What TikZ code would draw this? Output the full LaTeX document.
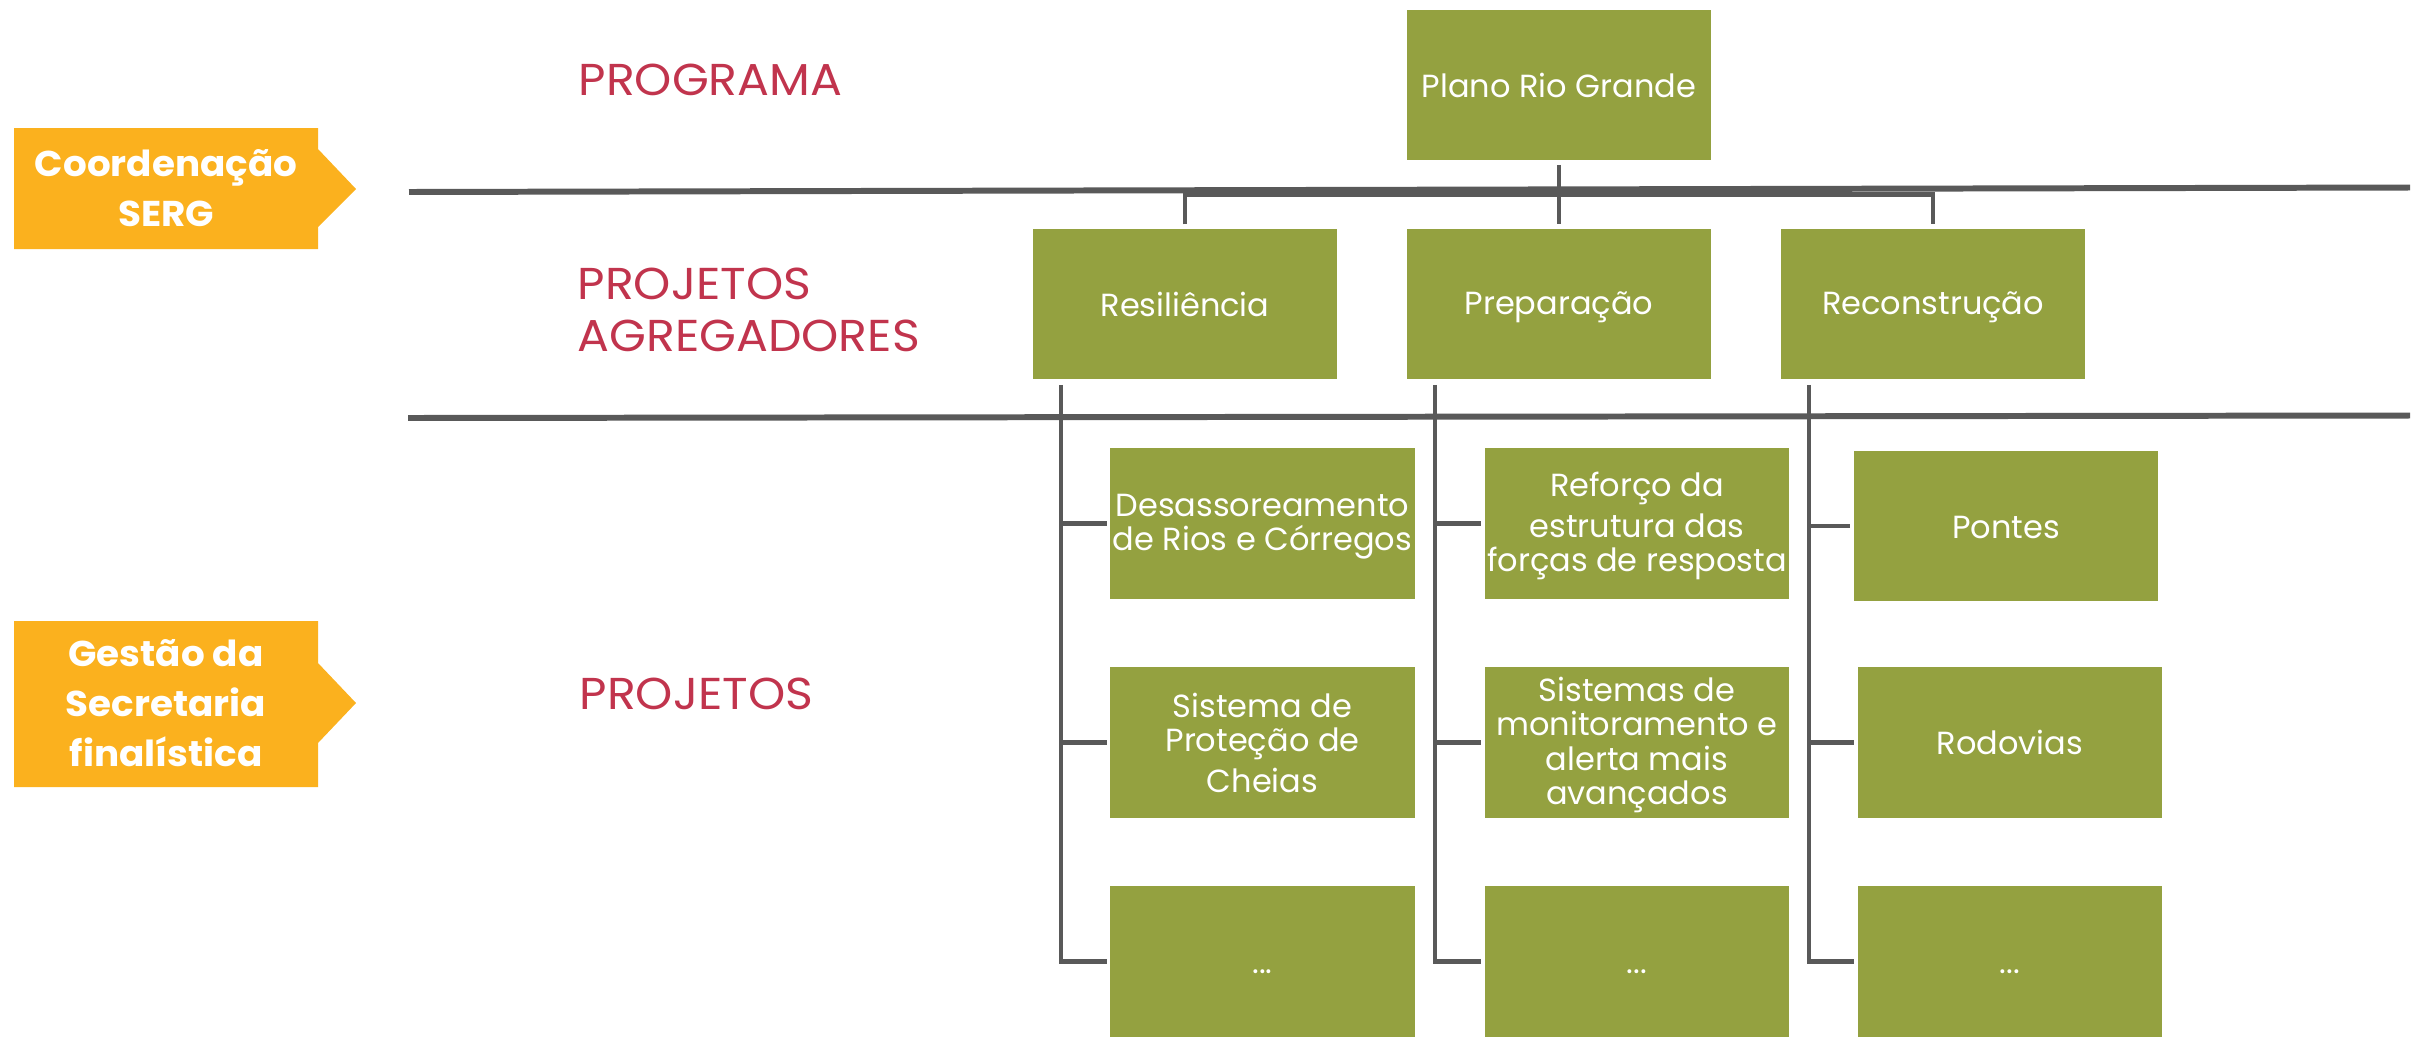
\documentclass[tikz,border=0pt]{standalone}
\usepackage{fontspec}
\setmainfont{Poppins}
\newfontfamily\labfont{Poppins}[FakeStretch=1.06]
\newfontfamily\ofont{Poppins}[FakeStretch=1.04]
\definecolor{gr}{RGB}{148,161,64}
\definecolor{org}{RGB}{251,177,30}
\definecolor{lred}{RGB}{193,52,77}
\definecolor{gy}{RGB}{89,89,89}
\newcommand\gs{\rule{0pt}{8.3pt}\rule[-1.4pt]{0pt}{1.4pt}}
\tikzset{
  gbox/.style={fill=gr, text=white, minimum width=3.04cm, minimum height=1.5cm, inner sep=0pt, align=center, font=\fontsize{9.1}{9.7}\selectfont},
  lab/.style={text=lred, align=left, inner sep=0pt, font=\labfont\fontsize{12.7}{14.8}\selectfont},
  otext/.style={text=white, font=\ofont\bfseries\fontsize{10.2}{14.2}\selectfont, align=center, inner sep=0pt},
  conn/.style={draw=gy, line width=1.15pt},
  sepline/.style={draw=gy, line width=1.7pt},
  arrowfill/.style={fill=org}
}
\begin{document}
\begin{tikzpicture}[x=0.01cm,y=-0.01cm]
\useasboundingbox (0,0) rectangle (2418,1045);

% orange labels
\fill[arrowfill] (14,128) -- (318,128) -- (318,149) -- (356,189) -- (318,227) -- (318,249) -- (14,249) -- cycle;
\node[otext] (o1) at (166,188.5) {Coordenação\\SERG};
\fill[arrowfill] (14,621) -- (318,621) -- (318,663) -- (356,703) -- (318,743) -- (318,787) -- (14,787) -- cycle;
\node[otext] (o2) at (166,703) {Gestão da\\Secretaria\\finalística};

% level labels
\node[lab, anchor=base west] (l1) at (578,95) {PROGRAMA};
\node[lab, anchor=west] (l2) at (577,310) {PROJETOS\\AGREGADORES};
\node[lab, anchor=base west] (l3) at (579,709) {PROJETOS};

% separators
\coordinate (s1l) at (409,192);
\coordinate (s1r) at (2410,187.5);
\coordinate (s2l) at (408,418);
\coordinate (s2r) at (2410,415.5);
\draw[sepline] (s1l) -- (s1r);
\draw[sepline] (s2l) -- (s2r);

% boxes
\node[gbox] (P) at (1559,85) {\gs Plano Rio Grande};
\node[gbox] (Res) at (1185,304) {\gs Resiliência};
\node[gbox] (Prep) at (1559,304) {\gs Preparação};
\node[gbox] (Rec) at (1933,304) {\gs Reconstrução};

\node[gbox] (R1) at (1262.5,523.5) {\gs Desassoreamento\\\gs de Rios e Córregos};
\node[gbox] (R2) at (1262.5,742.5) {\gs Sistema de\\\gs Proteção de\\\gs Cheias};
\node[gbox] (R3) at (1262.5,961.5) {\gs ...};
\node[gbox] (Q1) at (1637,523.5) {\gs Reforço da\\\gs estrutura das\\\gs forças de resposta};
\node[gbox] (Q2) at (1637,742.5) {\gs Sistemas de\\\gs monitoramento e\\\gs alerta mais\\\gs avançados};
\node[gbox] (Q3) at (1637,961.5) {\gs ...};
\node[gbox] (T1) at (2006,526) {\gs Pontes};
\node[gbox] (T2) at (2010,742.5) {\gs Rodovias};
\node[gbox] (T3) at (2010,961.5) {\gs ...};

% top connectors
\coordinate (bar) at (1559,194.5);
\draw[conn, shorten <=0.04cm] (P.south) -- (bar);
\draw[conn, shorten >=0.04cm] (bar) -- (Prep.north);
\draw[conn, shorten <=0.04cm, shorten >=0.04cm] (Res.north) |- (bar) -| (Rec.north);

% column connectors
\coordinate (c1) at ([xshift=0.29cm,yshift=-0.05cm]Res.south west);
\coordinate (c2) at ([xshift=0.29cm,yshift=-0.05cm]Prep.south west);
\coordinate (c3) at ([xshift=0.29cm,yshift=-0.05cm]Rec.south west);
\draw[conn, shorten >=0.03cm] (c1) |- (R3.west);
\draw[conn, shorten >=0.03cm] (c1 |- R1.west) -- (R1.west);
\draw[conn, shorten >=0.03cm] (c1 |- R2.west) -- (R2.west);
\draw[conn, shorten >=0.03cm] (c2) |- (Q3.west);
\draw[conn, shorten >=0.03cm] (c2 |- Q1.west) -- (Q1.west);
\draw[conn, shorten >=0.03cm] (c2 |- Q2.west) -- (Q2.west);
\draw[conn, shorten >=0.03cm] (c3) |- (T3.west);
\draw[conn, shorten >=0.03cm] (c3 |- T1.west) -- (T1.west);
\draw[conn, shorten >=0.03cm] (c3 |- T2.west) -- (T2.west);
\end{tikzpicture}
\end{document}
